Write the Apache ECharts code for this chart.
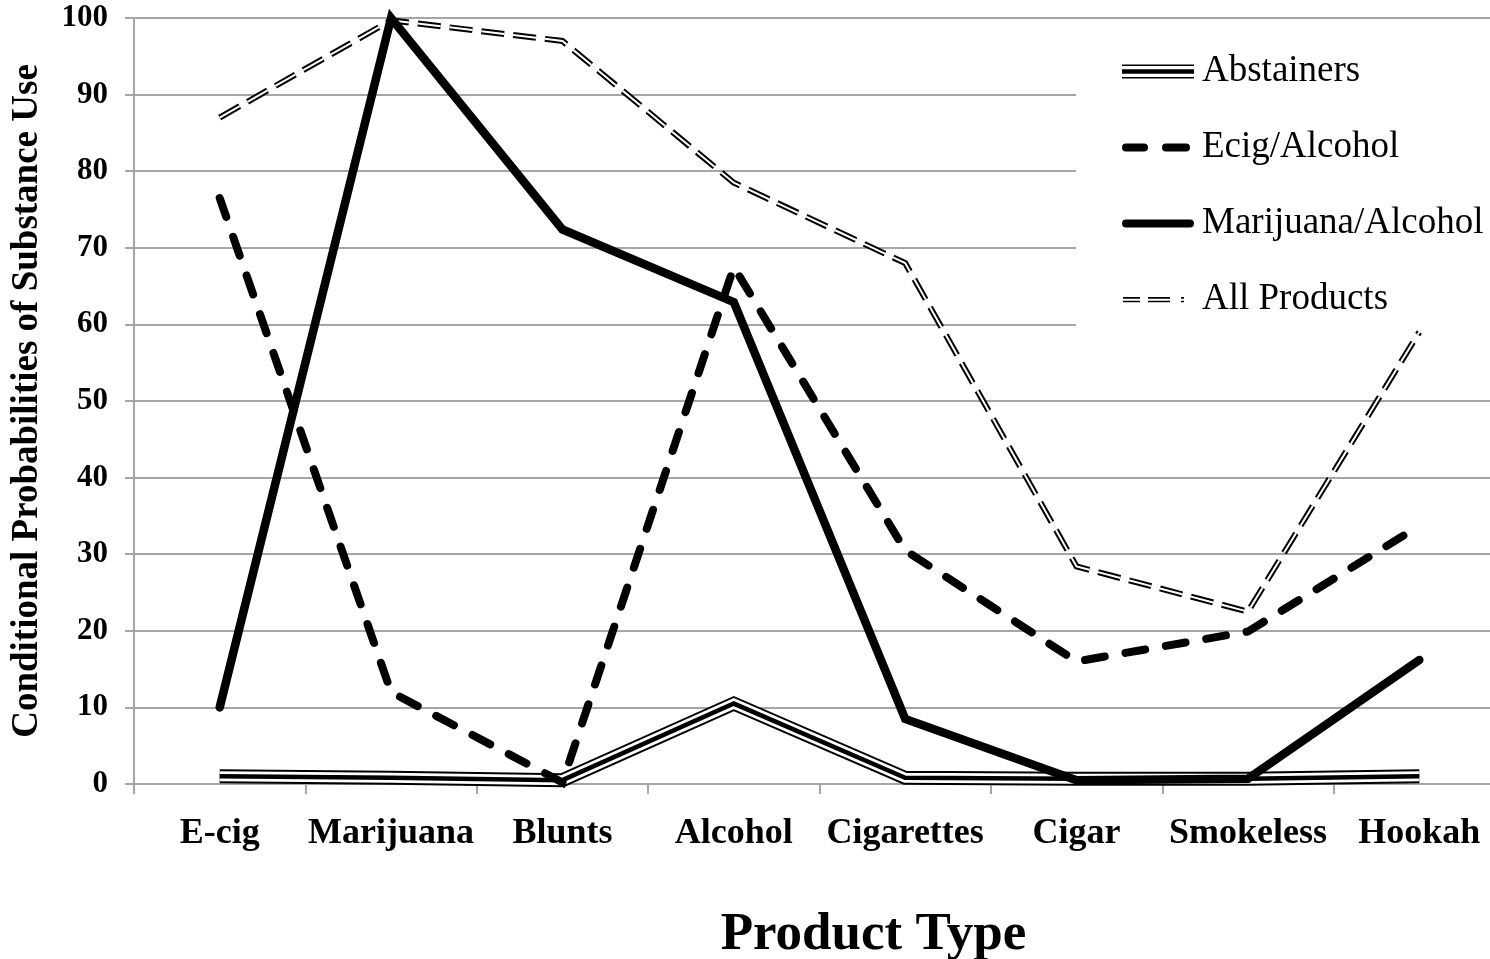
<!DOCTYPE html>
<html>
<head>
<meta charset="utf-8">
<script src="https://cdn.jsdelivr.net/npm/echarts@6/dist/echarts.min.js"></script>
<style>
html,body{margin:0;padding:0;background:#fff;}
#chart{width:1490px;height:959px;}
</style>
</head>
<body>
<div id="chart"></div>
<script>
const categories = ['E-cig', 'Marijuana', 'Blunts', 'Alcohol', 'Cigarettes', 'Cigar', 'Smokeless', 'Hookah'];
const abstainers = [1.0, 0.8, 0.5, 10.5, 0.8, 0.7, 0.7, 1.0];
const ecigAlcohol = [76.5, 12.0, 0.2, 67.5, 30.5, 16.0, 19.9, 33.7];
const marijuanaAlcohol = [10.0, 100, 72.4, 62.9, 8.5, 0.5, 0.7, 16.2];
const allProducts = [87.0, 99.7, 97.0, 78.5, 68.0, 28.4, 22.5, 59.0];
const yTicks = [0, 10, 20, 30, 40, 50, 60, 70, 80, 90, 100];

const serif = '"Liberation Serif", "Times New Roman", serif';
const corners = ' M0,0h0.01v0.01h-0.01Z M72,16h-0.01v-0.01h0.01Z';
const icons = {
  abs: 'path://M0,1H72V2.6H0Z M0,5.8H72V10.2H0Z M0,13.4H72V15H0Z' + corners,
  ecig: 'path://M4,4H22A4,4 0 0 1 22,12H4A4,4 0 0 1 4,4Z M44,4H64A4,4 0 0 1 64,12H44A4,4 0 0 1 44,4Z' + corners,
  mar: 'path://M4,4H68A4,4 0 0 1 68,12H4A4,4 0 0 1 4,4Z' + corners,
  all: 'path://M1,5.6H18V7.2H1Z M1,9.2H18V10.8H1Z M26,5.6H48V7.2H26Z M26,9.2H48V10.8H26Z M59,5.6H62V7.2H59Z M59,9.2H62V10.8H59Z' + corners
};

function line(name, data, width, color, type, z, cap) {
  return {
    name: name, type: 'line', data: data, showSymbol: false, symbol: 'none',
    z: z, silent: true, clip: false,
    lineStyle: { width: width, color: color, type: type || 'solid', cap: cap || 'butt', join: 'miter', miterLimit: 10 },
    itemStyle: { color: '#000' },
    emphasis: { disabled: true }
  };
}

const chart = echarts.init(document.getElementById('chart'), null, { renderer: 'canvas' });
chart.setOption({
  animation: false,
  backgroundColor: '#fff',
  grid: { left: 134, top: 18, width: 1371, height: 766, containLabel: false, outerBoundsMode: 'none' },
  legend: {
    orient: 'vertical', left: 1076, top: 28,
    padding: [25, 20, 8, 46],
    backgroundColor: '#fff',
    itemWidth: 72, itemHeight: 16, itemGap: 39,
    selectedMode: false,
    itemStyle: { color: '#000', borderWidth: 0 },
    textStyle: { fontFamily: serif, fontSize: 37, color: '#000', lineHeight: 37, padding: [0, 0, 0, 3] },
    data: [
      { name: 'Abstainers', icon: icons.abs },
      { name: 'Ecig/Alcohol', icon: icons.ecig },
      { name: 'Marijuana/Alcohol', icon: icons.mar },
      { name: 'All Products', icon: icons.all }
    ]
  },
  xAxis: {
    type: 'category', data: categories, boundaryGap: true,
    name: 'Product Type', nameLocation: 'middle', nameGap: 125,
    nameTextStyle: { fontFamily: serif, fontSize: 53, fontWeight: 'bold', color: '#000', padding: [0, 0, 0, 108] },
    axisLine: { lineStyle: { color: '#a6a6a6', width: 2 } },
    axisTick: { show: true, length: 10, interval: 0, lineStyle: { color: '#a6a6a6', width: 2 } },
    axisLabel: { margin: 32, interval: 0, fontFamily: serif, fontSize: 36, fontWeight: 'bold', color: '#000' },
    splitLine: { show: false }
  },
  yAxis: {
    type: 'value', min: 0, max: 100, interval: 10,
    name: 'Conditional Probabilities of Substance Use', nameLocation: 'middle', nameGap: 88,
    nameTextStyle: { fontFamily: serif, fontSize: 37, fontWeight: 'bold', color: '#000' },
    axisLine: { show: true, lineStyle: { color: '#a6a6a6', width: 2 } },
    axisTick: { show: true, length: 9, lineStyle: { color: '#a6a6a6', width: 2 } },
    axisLabel: { margin: 26, fontFamily: serif, fontSize: 31, fontWeight: 'bold', color: '#000',
      formatter: function (v) { return yTicks.indexOf(v) >= 0 ? String(v) : ''; } },
    splitLine: { show: true, lineStyle: { color: '#a6a6a6', width: 2 } }
  },
  series: [
    line('Abstainers', abstainers, 14, '#000', 'solid', 2),
    line('_abs_w', abstainers, 10, '#fff', 'solid', 2),
    line('_abs_c', abstainers, 4.5, '#000', 'solid', 2),
    line('All Products', allProducts, 6, '#000', [23, 9], 2),
    line('_all_w', allProducts, 2, '#fff', [23, 9], 2),
    line('Ecig/Alcohol', ecigAlcohol, 8, '#000', [20, 21], 2, 'round'),
    line('Marijuana/Alcohol', marijuanaAlcohol, 8.5, '#000', 'solid', 2, 'round')
  ]
});
</script>
</body>
</html>
